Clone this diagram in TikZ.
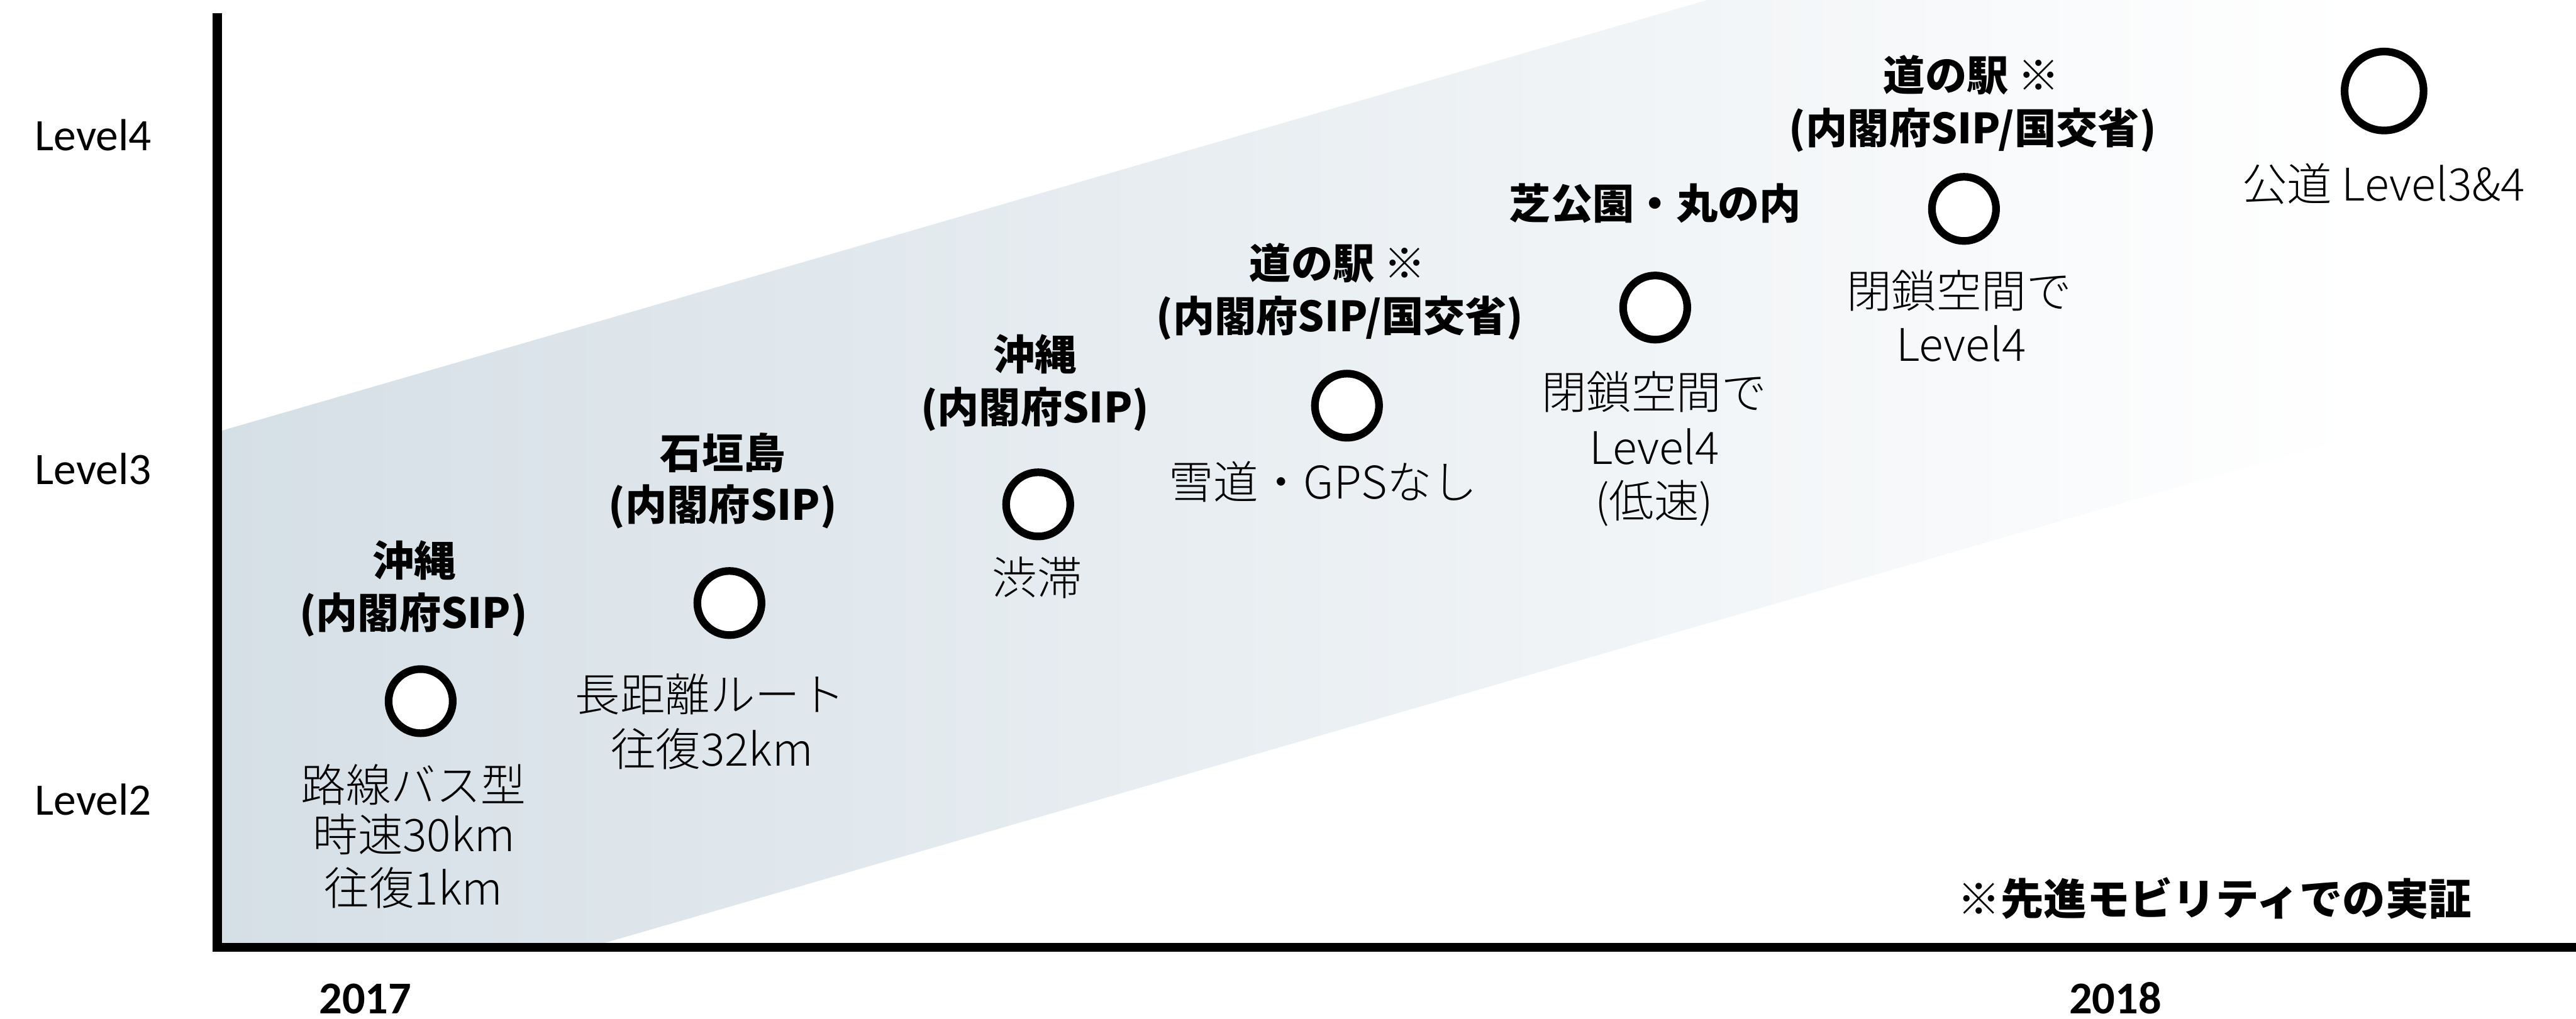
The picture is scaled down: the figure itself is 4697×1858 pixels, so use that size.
\documentclass[tikz,border=0pt]{standalone}
\usepackage{fontspec}
\newfontfamily\jp{Noto Sans CJK JP}
\newfontfamily\jplight{Noto Sans CJK JP Light}
\newfontfamily\carl{Carlito}
\definecolor{bandc}{RGB}{213,223,230}
\begin{document}
\begin{tikzpicture}[x=0.1pt,y=-0.1pt,
  ttl/.style={font=\jp\bfseries\fontsize{7.6}{9}\selectfont, inner sep=0pt, text height=6.08pt, text depth=0.3pt},
  dsc/.style={font=\jplight\fontsize{8.2}{9.5}\selectfont, inner sep=0pt, text height=6.56pt, text depth=0.33pt},
  lvl/.style={font=\carl\fontsize{8.2}{9.5}\selectfont, inner sep=0pt, text height=5.41pt, text depth=0pt},
  yr/.style={lvl, font=\carl\bfseries\fontsize{8.3}{9.5}\selectfont, text height=5.48pt},
  dot/.style={circle, draw=black, line width=1.4pt, fill=white, minimum size=11.7pt, inner sep=0pt},
  bigdot/.style={dot, minimum size=14.4pt},
  axisline/.style={line width=1.7pt, draw=black},
]
\useasboundingbox (0,0) rectangle (4697,1858);
% band
\shade[left color=bandc, right color=white] (396,1728) -- (396,788) -- (3113,0) -- (4300,0) -- (4300,793) -- (1075,1728) -- cycle;
% axes
\coordinate (ytop) at (396,24);
\coordinate (orig) at (396,1728);
\coordinate (xend) at (4697,1728);
\draw[axisline] (ytop) -- (orig) -- (xend);
% axis labels
\node[lvl] (l4) at (170,247) {Level4};
\node[lvl] (l3) at (170,856) {Level3};
\node[lvl] (l2) at (170,1460) {Level2};
\node[yr] (y17) at (666,1822) {2017};
\node[yr] (y18) at (3857,1822) {2018};
% node 1
\node[ttl] (t1a) at (755,1022) {沖縄};
\node[ttl] (t1b) at (754,1117) {(内閣府SIP)};
\node[dot] (c1) at (767,1279) {};
\node[dsc] (d1a) at (754,1431) {路線バス型};
\node[dsc] (d1b) at (755,1522) {時速30km};
\node[dsc] (d1c) at (754,1620) {往復1km};
% node 2
\node[ttl] (t2a) at (1318,826) {石垣島};
\node[ttl] (t2b) at (1318,920) {(内閣府SIP)};
\node[dot] (c2) at (1330,1100) {};
\node[dsc] (d2a) at (1295,1266) {長距離ルート};
\node[dsc] (d2b) at (1298,1366) {往復32km};
% node 3
\node[ttl] (t3a) at (1887,646) {沖縄};
\node[ttl] (t3b) at (1887,742) {(内閣府SIP)};
\node[dot] (c3) at (1893,920) {};
\node[dsc] (d3a) at (1891,1053) {渋滞};
% node 4
\node[ttl] (t4a) at (2439,480) {道の駅 ※};
\node[ttl] (t4b) at (2443,576) {(内閣府SIP/国交省)};
\node[dot] (c4) at (2456,740) {};
\node[dsc] (d4a) at (2412,879) {雪道・GPSなし};
% node 5
\node[ttl] (t5a) at (3018,371) {芝公園・丸の内};
\node[dot] (c5) at (3018,561) {};
\node[dsc] (d5a) at (3016,715) {閉鎖空間で};
\node[dsc] (d5b) at (3017,816) {Level4};
\node[dsc] (d5c) at (3016,913) {(低速)};
% node 6
\node[ttl] (t6a) at (3595,137) {道の駅 ※};
\node[ttl] (t6b) at (3597,233) {(内閣府SIP/国交省)};
\node[dot] (c6) at (3581,381) {};
\node[dsc] (d6a) at (3572,530) {閉鎖空間で};
\node[dsc] (d6b) at (3576,628) {Level4};
% node 7
\node[bigdot] (c7) at (4347,166) {};
\node[dsc] (d7a) at (4346,335) {公道 Level3\&4};
% footnote
\node[ttl, font=\jp\bfseries\fontsize{7.85}{9}\selectfont] (note) at (4038,1640) {※先進モビリティでの実証};
\end{tikzpicture}
\end{document}
